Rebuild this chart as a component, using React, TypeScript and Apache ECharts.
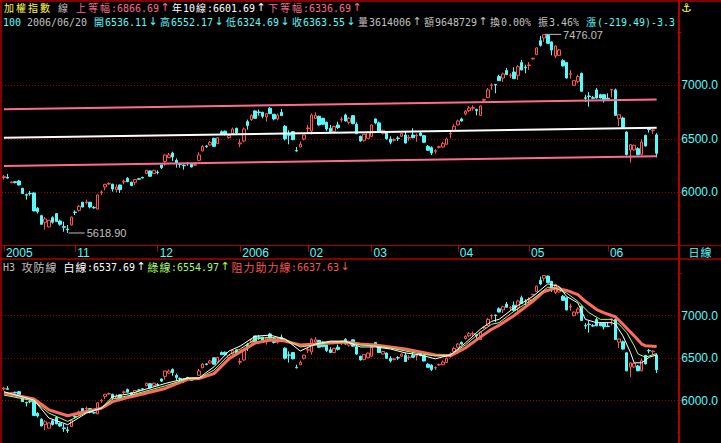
import React, { useEffect, useRef } from "react";
import * as echarts from "echarts";

// ---------- data ----------
const monthLabels = ["2005", "11", "12", "2006", "02", "03", "04", "05", "06"];
const monthDays = [19, 22, 22, 18, 17, 23, 19, 21, 14];
const padSlots = 5;

// [open, close, low, high]
const dailyOHLC: number[][] = [
  [6138, 6146, 6118, 6161], [6140, 6132, 6128, 6171], [6088, 6096, 6085, 6100], [6098, 6090, 6082, 6105],
  [6105, 6068, 6062, 6115], [6037, 5987, 5985, 6040], [5978, 5972, 5931, 5987], [5990, 5985, 5968, 6011],
  [5993, 5825, 5822, 5999], [5850, 5818, 5800, 5862], [5781, 5700, 5697, 5790], [5719, 5750, 5650, 5768],
  [5675, 5737, 5672, 5740], [5762, 5719, 5706, 5775], [5800, 5725, 5722, 5806], [5731, 5700, 5688, 5743],
  [5678, 5672, 5631, 5725], [5655, 5648, 5618.9, 5694], [5694, 5768, 5690, 5772], [5815, 5810, 5787, 5831],
  [5831, 5868, 5818, 5881], [5906, 5862, 5858, 5910], [5902, 5908, 5887, 5931], [5906, 5862, 5850, 5910],
  [5858, 5854, 5845, 5870], [5843, 5974, 5840, 5978], [5996, 6002, 5974, 6018], [6049, 6074, 6018, 6078],
  [6077, 6082, 6068, 6093], [6074, 6030, 6005, 6080], [6024, 6049, 5999, 6074], [6068, 6024, 5993, 6072],
  [6096, 6102, 6074, 6118], [6130, 6099, 6093, 6142], [6093, 6061, 6058, 6099], [6093, 6118, 6068, 6124],
  [6126, 6122, 6115, 6134], [6138, 6134, 6128, 6145], [6174, 6205, 6170, 6210], [6199, 6149, 6146, 6203],
  [6174, 6205, 6170, 6210], [6188, 6184, 6167, 6205], [6255, 6230, 6217, 6258], [6286, 6348, 6248, 6352],
  [6323, 6348, 6318, 6367], [6367, 6330, 6292, 6379], [6298, 6273, 6230, 6317], [6262, 6258, 6230, 6273],
  [6252, 6248, 6211, 6261], [6272, 6266, 6248, 6280], [6261, 6236, 6232, 6265], [6252, 6258, 6245, 6265],
  [6298, 6348, 6295, 6373], [6386, 6429, 6382, 6442], [6432, 6426, 6415, 6440], [6442, 6467, 6438, 6479],
  [6504, 6429, 6425, 6510], [6454, 6510, 6450, 6515], [6566, 6541, 6538, 6579], [6570, 6540, 6530, 6578],
  [6510, 6530, 6500, 6538], [6548, 6591, 6542, 6604], [6598, 6554, 6550, 6604], [6452, 6460, 6423, 6498],
  [6479, 6591, 6467, 6604], [6660, 6623, 6585, 6679], [6679, 6716, 6666, 6729], [6760, 6691, 6688, 6766],
  [6750, 6745, 6716, 6772], [6747, 6710, 6691, 6752], [6704, 6735, 6660, 6741], [6785, 6735, 6730, 6797],
  [6729, 6685, 6672, 6733], [6685, 6722, 6672, 6735], [6747, 6716, 6712, 6778], [6617, 6498, 6485, 6629],
  [6538, 6533, 6448, 6579], [6566, 6492, 6485, 6570], [6390, 6386, 6379, 6423], [6423, 6448, 6420, 6473],
  [6498, 6535, 6485, 6540], [6595, 6600, 6560, 6629], [6573, 6722, 6542, 6735], [6691, 6716, 6685, 6747],
  [6710, 6629, 6623, 6716], [6691, 6635, 6629, 6697], [6654, 6591, 6573, 6660], [6598, 6566, 6560, 6629],
  [6566, 6616, 6560, 6623], [6629, 6604, 6591, 6660], [6676, 6682, 6654, 6704], [6722, 6666, 6660, 6735],
  [6654, 6691, 6635, 6704], [6716, 6641, 6635, 6722], [6635, 6548, 6542, 6654], [6523, 6479, 6473, 6529],
  [6485, 6542, 6473, 6548], [6504, 6560, 6498, 6566], [6523, 6629, 6517, 6635], [6685, 6648, 6635, 6691],
  [6648, 6566, 6560, 6660], [6548, 6579, 6542, 6585], [6560, 6498, 6492, 6566], [6498, 6467, 6448, 6523],
  [6485, 6492, 6473, 6504], [6506, 6502, 6479, 6523], [6523, 6548, 6517, 6554], [6535, 6460, 6454, 6566],
  [6507, 6513, 6479, 6535], [6535, 6510, 6504, 6598], [6526, 6532, 6473, 6548], [6554, 6529, 6523, 6573],
  [6529, 6467, 6460, 6535], [6429, 6392, 6386, 6442], [6417, 6367, 6348, 6429], [6383, 6389, 6361, 6404],
  [6420, 6426, 6410, 6436], [6423, 6454, 6417, 6473], [6448, 6498, 6442, 6510], [6545, 6551, 6504, 6566],
  [6579, 6616, 6573, 6635], [6629, 6666, 6623, 6679], [6685, 6666, 6660, 6697], [6732, 6757, 6719, 6769],
  [6763, 6788, 6750, 6806], [6785, 6791, 6763, 6813], [6775, 6763, 6719, 6781], [6719, 6806, 6715, 6810],
  [6860, 6866, 6844, 6875], [6887, 6956, 6880, 6975], [6997, 7003, 6956, 7018], [7008, 7003, 6925, 7012],
  [7081, 7043, 7040, 7099], [7068, 7106, 7031, 7118], [7137, 7100, 7095, 7162], [7090, 7096, 7068, 7112],
  [7124, 7062, 7058, 7168], [7093, 7174, 7050, 7187], [7212, 7143, 7140, 7237], [7170, 7165, 7112, 7193],
  [7184, 7190, 7143, 7218], [7246, 7252, 7240, 7258], [7286, 7349, 7282, 7355], [7417, 7374, 7361, 7461],
  [7442, 7473, 7405, 7476.07], [7467, 7392, 7388, 7474], [7405, 7330, 7280, 7411], [7274, 7368, 7255, 7374],
  [7280, 7330, 7274, 7340], [7230, 7181, 7175, 7243], [7212, 7068, 7062, 7218], [7103, 7109, 7062, 7143],
  [7000, 7043, 6995, 7050], [7037, 7081, 7018, 7099], [7112, 6944, 6940, 7118], [6884, 6878, 6844, 6912],
  [6900, 6894, 6800, 6937], [6884, 6878, 6870, 6900], [6956, 6881, 6875, 6975], [6912, 6881, 6878, 6920],
  [6912, 6869, 6838, 6918], [6878, 6872, 6866, 6925], [6956, 6962, 6887, 6964], [6956, 6719, 6715, 6969],
  [6688, 6725, 6619, 6730], [6694, 6607, 6600, 6707], [6563, 6351, 6345, 6569], [6395, 6445, 6277, 6452],
  [6395, 6439, 6388, 6445], [6407, 6351, 6345, 6420], [6351, 6470, 6345, 6495], [6532, 6432, 6428, 6538],
  [6592, 6586, 6557, 6607], [6575, 6583.04, 6545, 6592], [6536.11, 6363.55, 6324.69, 6552.17],
];

// straight channel lines: [index, value] at both ends
const yearLinePts = [[0, 6510], [174, 6601.69]];
const upperBandPts = [[0, 6775], [174, 6866.69]];
const lowerBandPts = [[0, 6245], [174, 6336.69]];

// lower panel 攻防線 lines, read at sample candles
const whiteLinePts = [
  [0, 6104], [8, 6007], [12, 5794], [17, 5716], [22, 5852], [26, 5910], [29, 6046], [34, 6085], [43, 6201],
  [49, 6267], [52, 6267], [56, 6398], [60, 6584], [63, 6643], [67, 6759], [71, 6771], [75, 6724], [79, 6584],
  [83, 6666], [87, 6701], [91, 6701], [95, 6632], [99, 6632], [103, 6608], [107, 6562], [111, 6538],
  [115, 6492], [119, 6538], [123, 6678], [127, 6841], [130, 6934], [132, 6957], [136, 7093], [141, 7228],
  [145, 7376], [148, 7345], [150, 7228], [153, 7151], [155, 6957], [158, 6918], [162, 6918], [163, 6899],
  [165, 6763], [167, 6569], [168, 6445], [170, 6445], [172, 6511], [174, 6537.69],
];
const greenLinePts = [
  [0, 6065], [8, 5996], [12, 5852], [17, 5755], [22, 5860], [26, 5910], [29, 6019], [34, 6065], [43, 6174],
  [49, 6259], [52, 6262], [56, 6360], [60, 6540], [63, 6608], [67, 6724], [71, 6748], [75, 6724], [79, 6632],
  [83, 6655], [87, 6690], [91, 6690], [95, 6655], [99, 6643], [103, 6620], [107, 6585], [111, 6550],
  [115, 6527], [119, 6538], [123, 6655], [127, 6806], [130, 6899], [132, 6918], [136, 7054], [141, 7197],
  [145, 7337], [147, 7325], [150, 7267], [153, 7170], [156, 7034], [159, 6957], [162, 6957], [164, 6899],
  [166, 6802], [168, 6647], [169, 6550], [171, 6511], [174, 6554.97],
];
const resistLinePts = [
  [0, 6089], [8, 6019], [12, 5891], [17, 5821], [22, 5871], [26, 5910], [29, 5988], [34, 6046], [43, 6143],
  [49, 6251], [52, 6259], [56, 6318], [60, 6492], [63, 6574], [67, 6678], [71, 6713], [75, 6701], [79, 6655],
  [83, 6666], [87, 6678], [91, 6690], [95, 6666], [99, 6655], [103, 6632], [107, 6608], [111, 6574],
  [115, 6538], [119, 6527], [123, 6620], [127, 6748], [130, 6841], [132, 6887], [136, 7003], [141, 7170],
  [144, 7286], [147, 7325], [150, 7298], [153, 7248], [155, 7170], [158, 7073], [160, 7034], [162, 7003],
  [163, 6988], [165, 6899], [168, 6763], [170, 6666], [171, 6647], [174, 6637.63],
];

const highMark = { idx: 144, value: 7476.07 };
const lowMark = { idx: 17, value: 5618.9 };
const lastClose = 6363.55;

// ---------- style ----------
const MONO = '"DejaVu Sans Mono", "Liberation Mono", monospace';
const CJK = '"Noto Sans CJK TC", "Noto Sans CJK SC", sans-serif';
const SANS = '"Liberation Sans", sans-serif';
const FRAME = "#b00000";
const GRIDDOT = "#a00000";
const CYAN = "#54fcfc";
const CRED = "#fc5454";
const PINK = "#fc6c8c";
const GRAY = "#c0c0c0";
const YELLOW = "#fcfc54";
const GREEN = "#a8fc6c";
const SALMON = "#fc6c5c";

// texts laid out in cells: ASCII in 6px cells, other chars in 12px cells
function textRun(x0: number, y: number, segs: [string, string][], size = 11, cjkSize = 11) {
  let x = x0;
  const out: any[] = [];
  for (const [t, col] of segs) {
    const runs = t.match(/[\x00-\xff]+|[^\x00-\xff]/g) || [];
    for (const r of runs) {
      if (r.charCodeAt(0) < 256) {
        if (r.trim().length) {
          out.push({
            type: "text",
            x,
            y,
            z: 100,
            scaleX: 6 / (size * 0.602),
            style: { text: r, fill: col, font: `${size}px ${MONO}`, verticalAlign: "middle" },
          });
        }
        x += r.length * 6;
      } else {
        const arrow = r === "↑" || r === "↓";
        out.push({
          type: "text",
          x: x + 6,
          y,
          z: 100,
          style: {
            text: r,
            fill: col,
            font: arrow ? `${size}px "DejaVu Sans"` : `${cjkSize}px ${CJK}`,
            align: "center",
            verticalAlign: "middle",
          },
        });
        x += 12;
      }
    }
  }
  return out;
}

function buildCategories() {
  const cats: string[] = [];
  monthLabels.forEach((m, mi) => {
    for (let d = 1; d <= monthDays[mi]; d++) cats.push(m + "|" + d);
  });
  for (let k = 1; k <= padSlots; k++) cats.push("pad|" + k);
  return cats;
}

const isMonthStart = (_i: number, v: string) => !v.startsWith("pad") && v.split("|")[1] === "1";

function hline(x1: number, x2: number, y: number, w = 1) {
  return { type: "line", z: 50, shape: { x1, y1: y, x2, y2: y }, style: { stroke: FRAME, lineWidth: w } };
}
function vline(x: number, y1: number, y2: number, w = 1) {
  return { type: "line", z: 50, shape: { x1: x, y1, x2: x, y2 }, style: { stroke: FRAME, lineWidth: w } };
}

export default function App() {
  const ref = useRef<HTMLDivElement>(null);
  useEffect(() => {
    document.body.style.margin = "0";
    document.body.style.background = "#000";
    if (!ref.current) return;
    const chart = echarts.init(ref.current, undefined, { renderer: "svg" });
    const cats = buildCategories();

    const candleStyle = {
      color: "#000000",
      color0: CYAN,
      borderColor: CRED,
      borderColor0: CYAN,
      borderWidth: 1,
    };

    const yAxisCommon = {
      type: "value",
      position: "right",
      min: 5500,
      max: 7500,
      interval: 500,
      axisLine: { show: false },
      axisTick: { show: true, length: 4, lineStyle: { color: FRAME } },
      minorTick: { show: true, splitNumber: 4, length: 2, lineStyle: { color: FRAME } },
      axisLabel: {
        color: CYAN,
        fontFamily: SANS,
        fontSize: 12,
        margin: 4,
        showMinLabel: false,
        showMaxLabel: false,
        formatter: (v: number) => v.toFixed(1),
      },
      splitLine: {
        show: true,
        showMinLine: false,
        showMaxLine: false,
        lineStyle: { color: GRIDDOT, type: [1, 2], width: 1 },
      },
    };

    const lineSeries = (pts: number[][], color: string, width: number, xi: number) => ({
      type: "line",
      xAxisIndex: xi,
      yAxisIndex: xi,
      data: pts,
      symbol: "none",
      connectNulls: true,
      silent: true,
      z: 5,
      lineStyle: { color, width },
    });

    const markLabel = (text: string) => ({
      show: true,
      position: "right",
      distance: 2,
      formatter: text,
      color: GRAY,
      fontFamily: SANS,
      fontSize: 11,
      lineHeight: 11,
    });

    const option: any = {
      animation: false,
      backgroundColor: "#000000",
      grid: [
        { left: 2, right: 43, top: 31.8, height: 213.9 },
        { left: 2, right: 43, top: 273.3, height: 172 },
      ],
      xAxis: [
        {
          type: "category",
          gridIndex: 0,
          data: cats,
          boundaryGap: true,
          axisLine: { show: true, lineStyle: { color: FRAME, width: 1 } },
          axisTick: {
            show: true,
            alignWithLabel: true,
            interval: isMonthStart,
            length: 6,
            lineStyle: { color: FRAME },
          },
          axisLabel: {
            show: true,
            interval: isMonthStart,
            formatter: (v: string) => v.split("|")[0],
            color: CYAN,
            fontFamily: SANS,
            fontSize: 12,
            align: "left",
            margin: 1,
            padding: [0, 0, 0, 2],
          },
          splitLine: { show: false },
        },
        { type: "category", gridIndex: 1, data: cats, boundaryGap: true, show: false },
      ],
      yAxis: [
        { ...yAxisCommon, gridIndex: 0 },
        { ...yAxisCommon, gridIndex: 1 },
      ],
      series: [
        {
          type: "candlestick",
          xAxisIndex: 0,
          yAxisIndex: 0,
          data: dailyOHLC,
          barWidth: 3,
          clip: false,
          itemStyle: candleStyle,
          markPoint: {
            silent: true,
            animation: false,
            data: [
              {
                coord: [highMark.idx, highMark.value],
                symbol: "rect",
                symbolSize: [16, 1],
                symbolOffset: [9, 0],
                itemStyle: { color: GRAY },
                label: { ...markLabel(highMark.value.toFixed(2)), offset: [0, 1] },
              },
              {
                coord: [lowMark.idx, lowMark.value],
                symbol: "rect",
                symbolSize: [16, 1],
                symbolOffset: [9, 0],
                itemStyle: { color: GRAY },
                label: markLabel(lowMark.value.toFixed(2)),
              },
            ],
          },
          markLine: {
            silent: true,
            animation: false,
            symbol: ["none", "none"],
            data: [{ yAxis: lastClose }],
            lineStyle: { width: 0, opacity: 0 },
            label: {
              show: true,
              position: "end",
              distance: 1,
              formatter: lastClose.toFixed(1),
              color: "#ff0000",
              backgroundColor: "#ffffff",
              fontFamily: SANS,
              fontSize: 12,
              padding: [1, 2, 0, 3],
            },
          },
        },
        lineSeries(yearLinePts, "#ffffff", 2, 0),
        lineSeries(upperBandPts, PINK, 2, 0),
        lineSeries(lowerBandPts, PINK, 2, 0),
        {
          type: "candlestick",
          xAxisIndex: 1,
          yAxisIndex: 1,
          data: dailyOHLC,
          barWidth: 3,
          clip: false,
          itemStyle: candleStyle,
        },
        lineSeries(resistLinePts, SALMON, 3, 1),
        lineSeries(greenLinePts, GREEN, 1, 1),
        lineSeries(whiteLinePts, "#ffffff", 1, 1),
      ],
      graphic: [
        // frame
        hline(0, 721, 1, 1.5),
        vline(1, 0, 443, 1.5),
        vline(679, 0, 443, 2),
        hline(678, 721, 245.7, 1),
        hline(0, 721, 259, 1.5),
        // header texts
        ...textRun(3, 7.5, [
          ["加權指數", YELLOW],
          [" 線 ", GRAY],
          ["上等幅:6866.69↑", PINK],
          ["年10線:6601.69↑", "#ffffff"],
          ["下等幅:6336.69↑", PINK],
        ], 11, 10),
        ...textRun(3, 21.5, [
          ["100", CYAN],
          [" 2006/06/20 ", GRAY],
          ["開6536.11↓高6552.17↓低6324.69↓收6363.55↓", CYAN],
          ["量3614006↑額9648729↑換0.00% 振3.46% ", GRAY],
          ["漲(-219.49)-3.3", CYAN],
        ], 11, 10),
        { type: "rect", z: 101, shape: { x: 680, y: 2, width: 41, height: 24 }, style: { fill: "#000" } },
        { type: "text", x: 681, y: 8, z: 102, style: { text: "⚓", fill: YELLOW, font: "12px DejaVu Sans", verticalAlign: "middle" } },
        ...textRun(3, 266.5, [
          ["H3 攻防線 ", GRAY],
          ["白線:6537.69↑", "#ffffff"],
          ["綠線:6554.97↑", GREEN],
          ["阻力助力線:6637.63↓", "#fc5454"],
        ]),
        ...textRun(688, 252, [["日線", CYAN]]),
      ],
    };

    chart.setOption(option);
    return () => chart.dispose();
  }, []);

  return <div ref={ref} style={{ width: 721, height: 443, background: "#000" }} />;
}
